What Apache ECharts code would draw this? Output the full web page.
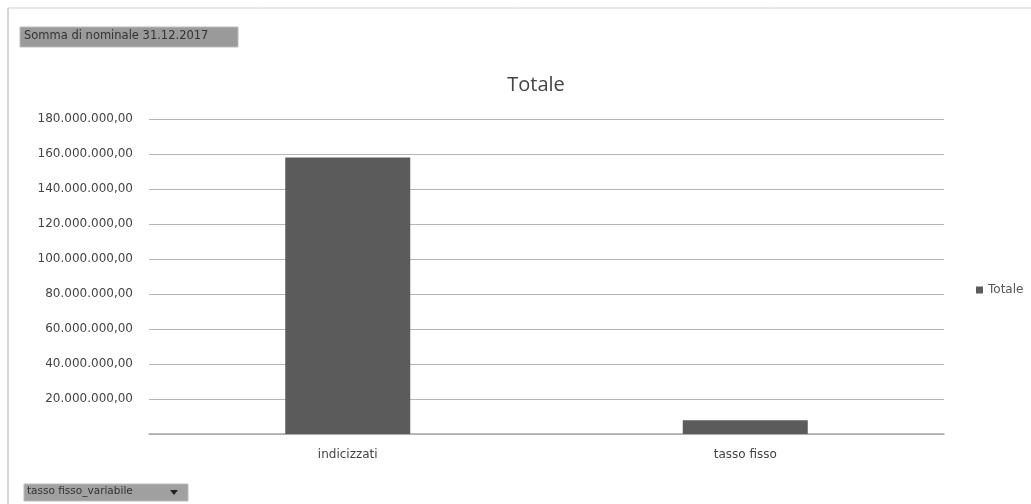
<!DOCTYPE html>
<html>
<head>
<meta charset="utf-8">
<script src="https://cdn.jsdelivr.net/npm/echarts@6/dist/echarts.min.js"></script>
<style>
html,body{margin:0;padding:0;background:#fff;}
#c{width:1031px;height:504px;}
</style>
</head>
<body>
<div id="c"></div>
<script>
var categories = ['indicizzati', 'tasso fisso'];
var seriesName = 'Totale';
var values = [158000000, 7800000];
var chartTitle = 'Totale';
var filterLabel = 'Somma di nominale 31.12.2017';
var axisFieldLabel = 'tasso fisso_variabile';

function fmt(v){
  var s = Math.round(v).toString().replace(/\B(?=(\d{3})+(?!\d))/g, '.');
  return s + ',00';
}

var chart = echarts.init(document.getElementById('c'));
chart.setOption({
  animation: false,
  backgroundColor: '#ffffff',
  textStyle: {fontFamily: 'DejaVu Sans'},
  title: {
    text: chartTitle, left: 531, top: 70, textAlign: 'center',
    textStyle: {fontSize: 20, fontWeight: 'normal', color: '#444', fontFamily: 'Open Sans'}
  },
  legend: {
    data: [seriesName], left: 971, top: 279, icon: 'rect', itemWidth: 7, itemHeight: 7, itemGap: 4,
    textStyle: {fontSize: 12, color: '#555', fontFamily: 'DejaVu Sans'}
  },
  grid: {left: 149, right: 87, top: 119, bottom: 70},
  xAxis: {
    type: 'category', data: categories,
    axisLine: {lineStyle: {color: '#aaa', width: 1.5}},
    axisTick: {show: false},
    axisLabel: {fontSize: 12, color: '#444', margin: 15, fontFamily: 'DejaVu Sans'}
  },
  yAxis: {
    type: 'value', min: 0, max: 180000000, interval: 20000000,
    axisLine: {show: false}, axisTick: {show: false},
    splitLine: {lineStyle: {color: '#b5b5b5', width: 1.2}},
    axisLabel: {fontSize: 12, color: '#444', margin: 16, fontFamily: 'DejaVu Sans',
      formatter: function(v){ return v === 0 ? '' : fmt(v); }}
  },
  series: [{
    name: seriesName, type: 'bar', data: values, barWidth: 125,
    itemStyle: {color: '#5b5b5b'}
  }],
  graphic: [
    {type: 'line', shape: {x1: 8, y1: 8, x2: 1031, y2: 8}, style: {stroke: '#d0d0d0', lineWidth: 1}},
    {type: 'line', shape: {x1: 8, y1: 8, x2: 8, y2: 504}, style: {stroke: '#c8c8c8', lineWidth: 1.5}},
    {type: 'rect', shape: {x: 20, y: 27, width: 218, height: 20}, style: {fill: '#9a9a9a', stroke: '#bbb'}},
    {type: 'text', x: 24, y: 30, style: {text: filterLabel, fontSize: 11.5, fill: '#333', fontFamily: 'DejaVu Sans'}},
    {type: 'rect', shape: {x: 24, y: 484, width: 164, height: 17}, style: {fill: '#a0a0a0', stroke: '#bbb'}},
    {type: 'text', x: 27, y: 486, style: {text: axisFieldLabel, fontSize: 10.5, fill: '#333', fontFamily: 'DejaVu Sans'}},
    {type: 'polygon', shape: {points: [[170, 490], [178, 490], [174, 495]]}, style: {fill: '#222'}}
  ]
});
</script>
</body>
</html>
